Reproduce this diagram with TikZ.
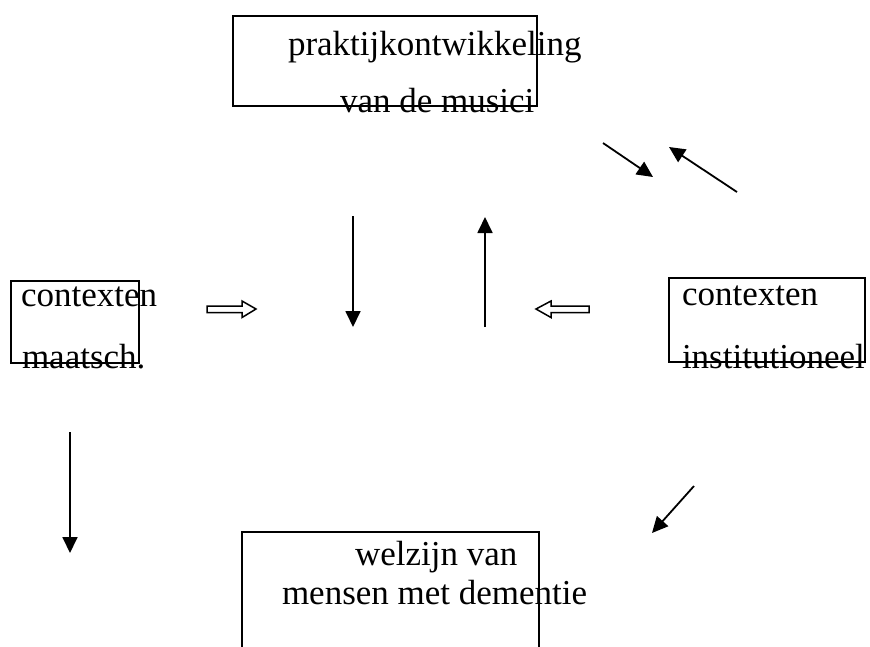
\documentclass[tikz,border=0pt]{standalone}
\usepackage{fontspec}
\setmainfont{Liberation Serif}
\usetikzlibrary{arrows.meta}
\begin{document}
\begin{tikzpicture}[x=1pt,y=-1pt,
 box/.style={draw, line width=1.8pt, inner sep=0pt, outer sep=0pt, anchor=north west},
 lbl/.style={anchor=base west, inner sep=0pt, outer sep=0pt, font=\fontsize{35}{42}\selectfont},
 arr/.style={line width=1.8pt, -{Triangle[length=16pt,width=15pt]}},
 hollow/.style={draw, line width=1.5pt, line join=miter}]
\useasboundingbox (0,0) rectangle (870,646);
\clip (0,0) rectangle (870,646);
% boxes
\node[box, minimum width=304pt, minimum height=90pt] (top) at (233,16) {};
\node[box, minimum width=128pt, minimum height=82pt] (left) at (11,281) {};
\node[box, minimum width=196pt, minimum height=84pt] (right) at (669,278) {};
\node[box, minimum width=297pt, minimum height=130pt] (bottom) at (242,532) {};
% labels
\node[lbl] (t1) at (288,55) {praktijkontwikkeling};
\node[lbl] (t2) at (340,112) {van de musici};
\node[lbl] (l1) at (21,306) {contexten};
\node[lbl] (l2) at (22,368) {maatsch.};
\node[lbl] (r1) at (682,305) {contexten};
\node[lbl] (r2) at (682,368) {institutioneel};
\node[lbl] (b1) at (355,565) {welzijn van};
\node[lbl] (b2) at (282,604) {mensen met dementie};
% arrows
\coordinate (a1s) at (603,143); \coordinate (a1e) at (653,177);
\coordinate (a2s) at (737,192); \coordinate (a2e) at (669,147);
\coordinate (a3s) at (353,216); \coordinate (a3e) at (353,327);
\coordinate (a4s) at (485,327); \coordinate (a4e) at (485,217);
\coordinate (a5s) at (70,432); \coordinate (a5e) at (70,553);
\coordinate (a6s) at (694,486); \coordinate (a6e) at (652,533);
\draw[arr] (a1s) -- (a1e);
\draw[arr] (a2s) -- (a2e);
\draw[arr] (a3s) -- (a3e);
\draw[arr] (a4s) -- (a4e);
\draw[arr] (a5s) -- (a5e);
\draw[arr] (a6s) -- (a6e);
% hollow arrows
\draw[hollow] (207,306) -- (242,306) -- (242,301) -- (256,309) -- (242,317.5) -- (242,312.5) -- (207,312.5) -- cycle;
\draw[hollow] (589,306) -- (551,306) -- (551,301) -- (536,309) -- (551,317.5) -- (551,312.5) -- (589,312.5) -- cycle;
\end{tikzpicture}
\end{document}
